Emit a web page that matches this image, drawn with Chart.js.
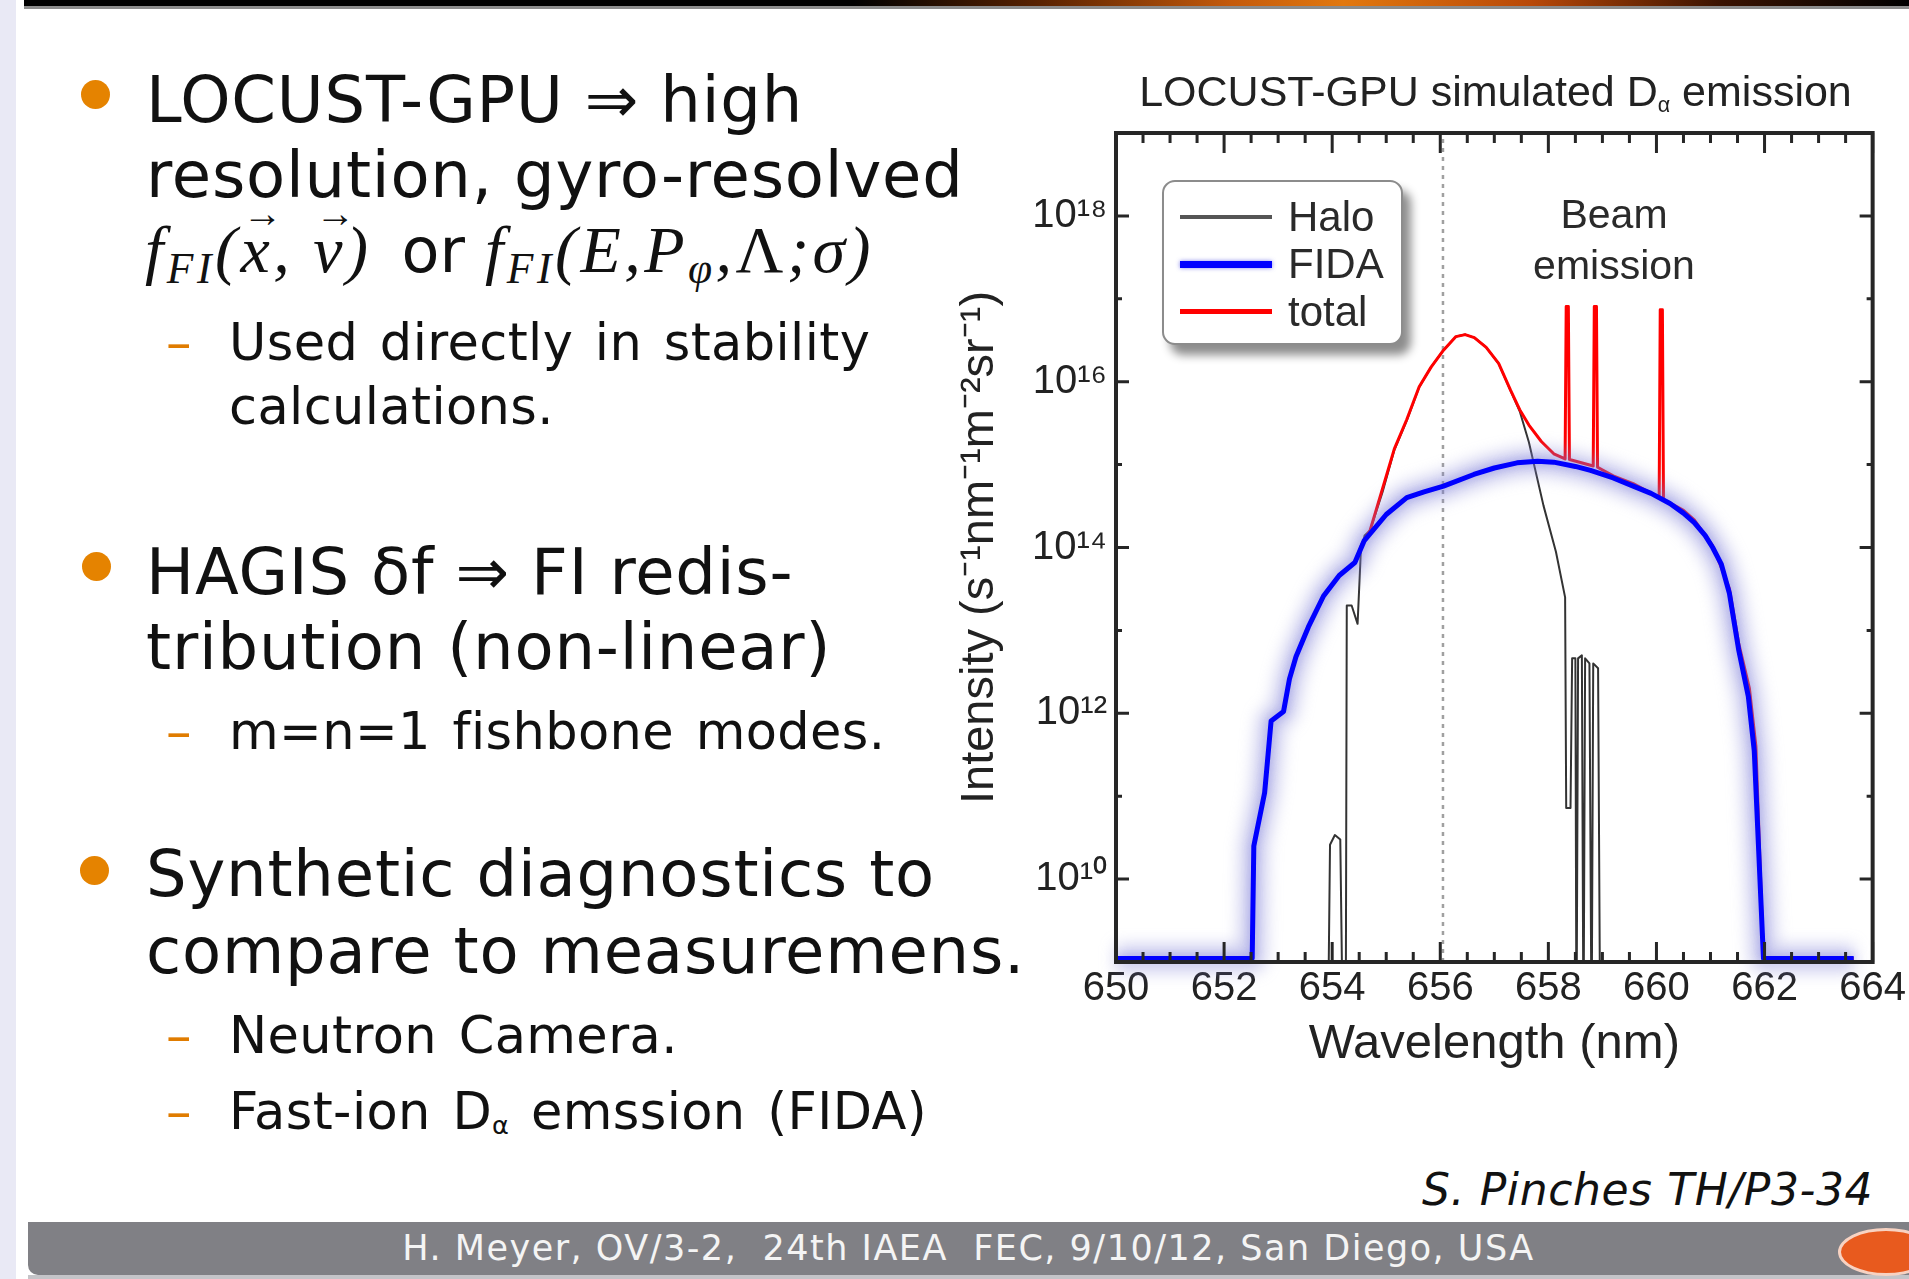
<!DOCTYPE html>
<html>
<head>
<meta charset="utf-8">
<title>LOCUST-GPU simulated D-alpha emission</title>
<script src="https://cdn.jsdelivr.net/npm/chart.js@4.4.1/dist/chart.umd.min.js"></script>
<style>
  html, body { margin: 0; padding: 0; }
  body {
    width: 1909px; height: 1279px; position: relative; overflow: hidden;
    background: #fff; color: #111;
    font-family: 'DejaVu Sans', Verdana, sans-serif;
  }
  .abs { position: absolute; white-space: nowrap; line-height: 1; }
  .main { font-size: 64px; left: 146px; letter-spacing: 0.8px; }
  .sub { font-size: 51px; left: 229px; word-spacing: 5px; letter-spacing: 0.4px; }
  .dash { font-size: 51px; left: 166px; color: #e07c00; }
  .dot { position: absolute; width: 29px; height: 29px; border-radius: 50%; background: #e58300; }
  .formula { font-family: 'Liberation Serif', 'Times New Roman', serif; font-style: italic; font-size: 66px; left: 145px; letter-spacing: 3.5px; }
  .formula .sans { font-family: 'DejaVu Sans', sans-serif; font-style: normal; font-size: 62px; letter-spacing: 0; margin-left: 10px; }
  .formula sub { font-size: 0.66em; vertical-align: -0.25em; line-height: 0; }
  .formula .up { font-style: normal; }
  .vec { position: relative; display: inline-block; }
  .vec::before { content: '\2192'; position: absolute; left: 0.06em; top: -0.55em; font-size: 0.6em; font-style: normal; }
  #chartTitle {
    left: 1116px; top: 70px; width: 759px; text-align: center;
    font-family: 'Liberation Sans', Arial, sans-serif; font-size: 43px; color: #222;
  }
  #chartTitle sub { font-size: 0.5em; vertical-align: -0.3em; line-height: 0; }
  #beam {
    left: 1514px; top: 189px; width: 200px; text-align: center; line-height: 51px;
    font-family: 'Liberation Sans', Arial, sans-serif; font-size: 41px; color: #2a2a2a;
  }
  #legend {
    position: absolute; left: 1162px; top: 180px; width: 237px; height: 161px;
    border: 2px solid #8c8c8c; border-radius: 13px; background: #fff;
    box-shadow: 8px 10px 10px rgba(0, 0, 0, 0.45);
    font-family: 'Liberation Sans', Arial, sans-serif; font-size: 42px; color: #2a2a2a;
  }
  .legRow { position: absolute; left: 0; height: 47px; display: flex; align-items: center; }
  .legLine { position: absolute; left: 16px; width: 92px; }
  .legText { position: absolute; left: 124px; line-height: 1; }
  #chartBox { position: absolute; left: 940px; top: 100px; width: 969px; height: 990px; }
</style>
</head>
<body>
  <!-- slide frame -->
  <div style="position:absolute;left:0;top:0;width:16px;height:1279px;background:#e9e9f5;"></div>
  <div style="position:absolute;left:24px;top:0;width:1885px;height:6px;background:linear-gradient(90deg,#000 0%,#000 44%,#5a2200 54%,#c45a0c 64%,#e2780e 70%,#b84808 80%,#3a1200 90%,#000 100%);"></div>
  <div style="position:absolute;left:24px;top:6px;width:1885px;height:3px;background:#8c8c8c;"></div>

  <!-- bullet text -->
  <div class="dot" style="left:81px;top:80px;"></div>
  <div class="abs main" style="top:68px;">LOCUST-GPU ⇒ high</div>
  <div class="abs main" style="top:143px;">resolution, gyro-resolved</div>
  <div class="abs formula" style="top:217px;"><span>f</span><sub>FI</sub>(<span class="vec">x</span>, <span class="vec">v</span>) <span class="sans">or</span> <span>f</span><sub>FI</sub>(E,P<sub>φ</sub>,<span class="up">Λ</span>;σ)</div>
  <div class="abs dash" style="top:317px;">–</div>
  <div class="abs sub" style="top:317px;">Used directly in stability</div>
  <div class="abs sub" style="top:381px;">calculations.</div>

  <div class="dot" style="left:82px;top:552px;"></div>
  <div class="abs main" style="top:540px;">HAGIS δf ⇒ FI redis-</div>
  <div class="abs main" style="top:615px;">tribution (non-linear)</div>
  <div class="abs dash" style="top:706px;">–</div>
  <div class="abs sub" style="top:706px;">m=n=1 fishbone modes.</div>

  <div class="dot" style="left:80px;top:856px;"></div>
  <div class="abs main" style="top:842px;">Synthetic diagnostics to</div>
  <div class="abs main" style="top:919px;">compare to measuremens.</div>
  <div class="abs dash" style="top:1010px;">–</div>
  <div class="abs sub" style="top:1010px;">Neutron Camera.</div>
  <div class="abs dash" style="top:1086px;">–</div>
  <div class="abs sub" style="top:1086px;">Fast-ion D<sub style="font-size:0.5em;vertical-align:-0.2em;line-height:0;">α</sub> emssion (FIDA)</div>

  <div class="abs" style="left:1422px;top:1168px;font-size:44px;font-style:italic;letter-spacing:0.6px;">S. Pinches TH/P3-34</div>

  <!-- footer -->
  <div style="position:absolute;left:28px;top:1222px;width:1881px;height:53px;background:#808085;border-bottom-left-radius:10px;color:#f4f4f4;text-align:center;font-size:35px;letter-spacing:1.5px;line-height:53px;white-space:nowrap;">H. Meyer, OV/3-2,&nbsp; 24th IAEA&nbsp; FEC, 9/10/12, San Diego, USA</div>
  <div style="position:absolute;left:28px;top:1275px;width:1881px;height:4px;background:#c4c4c8;"></div>
  <div style="position:absolute;left:1838px;top:1228px;width:90px;height:42px;border-radius:50%;background:#e85a1e;border:3px solid #f7d2c2;"></div>

  <!-- chart -->
  <div id="chartBox"><canvas id="spectrum" width="969" height="990"></canvas></div>
  <div id="chartTitle" class="abs">LOCUST-GPU simulated D<sub>α</sub> emission</div>
  <div id="beam" class="abs">Beam<br>emission</div>
  <div id="legend"></div>

<script>
// axis ticks
const wavelengthTicks = [650, 652, 654, 656, 658, 660, 662, 664];
const intensityTicks = [1e10, 1e12, 1e14, 1e16, 1e18];
const intensityTickLabels = ['10¹⁰', '10¹²', '10¹⁴', '10¹⁶', '10¹⁸'];
const intensityMinorTicks = [1e11, 1e13, 1e15, 1e17];
const dAlphaLine = 656.05;

// Halo (values below 1e9 are off the bottom of the plot)
const haloWl = [650, 653.92, 653.96, 654.05, 654.15, 654.2, 654.25, 654.27, 654.36, 654.47, 654.53, 654.6, 654.7,
  654.93, 655.15, 655.38, 655.61, 655.83, 656.06, 656.29, 656.46, 656.63, 656.85, 657.08, 657.3, 657.47, 657.64,
  657.91, 658.14, 658.31, 658.33, 658.41, 658.44, 658.5, 658.52, 658.55, 658.62, 658.65, 658.68, 658.76, 658.8,
  658.83, 658.92, 658.96, 663.7];
const haloInt = [1e8, 1e8, 2.6e10, 3.4e10, 3.0e10, 1e8, 1e8, 2.0e13, 2.0e13, 1.2e13, 9e13, 1.4e14, 1.6e14,
  4.6e14, 1.5e15, 3.4e15, 8.6e15, 1.5e16, 2.4e16, 3.5e16, 3.7e16, 3.4e16, 2.6e16, 1.65e16, 7.8e15, 4.4e15, 1.86e15,
  3.2e14, 8.9e13, 2.5e13, 7.2e10, 7.2e10, 4.6e12, 4.6e12, 1e8, 4.6e12, 5.0e12, 1e8, 4.6e12, 4.0e12, 1e8,
  4.0e12, 3.5e12, 1e8, 1e8];

// FIDA
const fidaWl = [650, 652.52, 652.55, 652.75, 652.87, 653.1, 653.21, 653.33, 653.56, 653.84, 654.13, 654.42, 654.59,
  655.0, 655.38, 655.7, 656.06, 656.62, 657.0, 657.42, 657.8, 658.1, 658.5, 658.78, 659.2, 659.57, 659.9, 660.25,
  660.5, 660.7, 660.9, 661.04, 661.2, 661.35, 661.52, 661.7, 661.81, 661.98, 663.65];
const fidaInt = [1.1e9, 1.1e9, 2.5e10, 1.1e11, 8.1e11, 1.05e12, 2.6e12, 4.8e12, 1.1e13, 2.6e13, 4.6e13, 6.6e13, 1.2e14,
  2.5e14, 4.0e14, 4.7e14, 5.5e14, 7.6e14, 9.1e14, 1.05e15, 1.1e15, 1.07e15, 9.5e14, 8.5e14, 6.9e14, 5.5e14, 4.5e14, 3.4e14,
  2.6e14, 2.0e14, 1.4e14, 1.0e14, 6.3e13, 2.8e13, 5.9e12, 1.6e12, 3.5e11, 1.1e9, 1.1e9];

// total, with the beam emission lines
const totalWl = [650, 652.52, 652.55, 652.75, 652.87, 653.1, 653.21, 653.33, 653.56, 653.84, 654.13, 654.42, 654.55,
  654.7, 654.93, 655.15, 655.38, 655.61, 655.83, 656.06, 656.29, 656.46, 656.63, 656.85, 657.08, 657.3, 657.47,
  657.64, 657.87, 658.1, 658.31, 658.33, 658.37, 658.39, 658.83, 658.85, 658.89, 658.91, 659.2, 659.57, 660.05,
  660.07, 660.11, 660.13, 660.5, 660.7, 661.04, 661.35, 661.52, 661.72, 661.84, 661.98, 663.65];
const totalInt = [1.1e9, 1.1e9, 2.5e10, 1.1e11, 8.1e11, 1.05e12, 2.6e12, 4.8e12, 1.1e13, 2.6e13, 4.6e13, 6.6e13, 1.1e14,
  1.6e14, 5.1e14, 1.55e15, 3.5e15, 8.7e15, 1.5e16, 2.4e16, 3.5e16, 3.7e16, 3.4e16, 2.6e16, 1.66e16, 7.9e15, 4.6e15,
  3.0e15, 1.9e15, 1.35e15, 1.17e15, 8.1e16, 8.1e16, 1.15e15, 9.6e14, 8.1e16, 8.1e16, 9.3e14, 7.3e14, 5.9e14, 4.0e14,
  7.4e16, 7.4e16, 3.8e14, 2.8e14, 2.15e14, 1.05e14, 3.2e13, 7.1e12, 2.0e12, 4.0e11, 1.1e9, 1.1e9];

const chartFont = "'Liberation Sans', Arial, sans-serif";

function toPoints(xs, ys) {
    return xs.map((x, i) => ({ x: x, y: ys[i] }));
}

// frame, inward ticks, dotted D-alpha line and the glow under the FIDA curve
const axisFrame = {
    id: 'axisFrame',
    beforeDatasetsDraw(chart) {
        const { ctx, chartArea: a, scales: { x } } = chart;
        const px = x.getPixelForValue(dAlphaLine);
        ctx.save();
        ctx.strokeStyle = '#a0a0a0';
        ctx.lineWidth = 2.5;
        ctx.setLineDash([4, 5]);
        ctx.beginPath();
        ctx.moveTo(px, a.bottom);
        ctx.lineTo(px, a.top);
        ctx.stroke();
        ctx.restore();
    },
    beforeDatasetDraw(chart, args) {
        if (args.index !== 1) return;
        const ctx = chart.ctx;
        // soft lavender halo following the FIDA points
        const pts = args.meta.data;
        ctx.save();
        ctx.filter = 'blur(8px)';
        ctx.strokeStyle = 'rgba(130, 130, 215, 0.42)';
        ctx.lineWidth = 26;
        ctx.lineJoin = 'round';
        ctx.beginPath();
        pts.forEach((p, i) => (i ? ctx.lineTo(p.x, p.y) : ctx.moveTo(p.x, p.y)));
        ctx.stroke();
        ctx.restore();
        ctx.save();
        ctx.shadowColor = 'rgba(90, 90, 215, 0.45)';
        ctx.shadowBlur = 10;
    },
    afterDatasetDraw(chart, args) {
        if (args.index === 1) chart.ctx.restore();
    },
    afterDraw(chart) {
        const { ctx, chartArea: a, scales: { x, y } } = chart;
        ctx.save();
        ctx.strokeStyle = '#262626';
        ctx.lineWidth = 3;
        ctx.beginPath();
        for (let v = 650; v <= 664; v += 0.5) {
            const px = x.getPixelForValue(v);
            const len = wavelengthTicks.includes(v) ? 20 : 10;
            ctx.moveTo(px, a.bottom);
            ctx.lineTo(px, a.bottom - len);
            ctx.moveTo(px, a.top);
            ctx.lineTo(px, a.top + len);
        }
        intensityTicks.concat(intensityMinorTicks).forEach(v => {
            const py = y.getPixelForValue(v);
            const len = intensityTicks.includes(v) ? 13 : 6;
            ctx.moveTo(a.left, py);
            ctx.lineTo(a.left + len, py);
            ctx.moveTo(a.right, py);
            ctx.lineTo(a.right - len, py);
        });
        ctx.stroke();
        ctx.lineWidth = 4;
        ctx.strokeRect(a.left, a.top, a.width, a.height);
        ctx.restore();
    }
};

// drawing order: FIDA on top, total below it, Halo at the bottom
const chart = new Chart(document.getElementById('spectrum'), {
    type: 'line',
    data: {
        datasets: [
            { label: 'Halo', data: toPoints(haloWl, haloInt), borderColor: '#333333', borderWidth: 2, order: 3 },
            { label: 'FIDA', data: toPoints(fidaWl, fidaInt), borderColor: '#0000ff', borderWidth: 5, order: 1 },
            { label: 'total', data: toPoints(totalWl, totalInt), borderColor: '#ff0000', borderWidth: 3, order: 2 }
        ]
    },
    options: {
        responsive: false,
        animation: false,
        devicePixelRatio: 1,
        elements: {
            point: { radius: 0 },
            line: { tension: 0, borderJoinStyle: 'round' }
        },
        layout: {
            autoPadding: false,
            padding: { left: 0, right: 34, top: 22, bottom: 0 }
        },
        plugins: {
            legend: { display: false },
            tooltip: { enabled: false }
        },
        scales: {
            x: {
                type: 'linear',
                min: 650,
                max: 664,
                afterBuildTicks: scale => {
                    scale.ticks = wavelengthTicks.map(v => ({ value: v }));
                },
                afterFit: scale => { scale.height = 128; },
                ticks: {
                    padding: 3,
                    color: '#222',
                    font: { family: chartFont, size: 40 },
                    maxRotation: 0
                },
                grid: { display: false, drawTicks: false },
                border: { display: false },
                title: {
                    display: true,
                    text: 'Wavelength (nm)',
                    color: '#222',
                    font: { family: chartFont, size: 49 },
                    padding: { top: 0, bottom: 16 }
                }
            },
            y: {
                type: 'logarithmic',
                min: 1e9,
                max: 1e19,
                afterBuildTicks: scale => {
                    scale.ticks = intensityTicks.map(v => ({ value: v }));
                },
                afterFit: scale => { scale.width = 176; },
                ticks: {
                    padding: 9,
                    color: '#222',
                    font: { family: chartFont, size: 40 },
                    callback: (value, index) => intensityTickLabels[index]
                },
                grid: { display: false, drawTicks: false },
                border: { display: false },
                title: {
                    display: true,
                    text: 'Intensity (s⁻¹nm⁻¹m⁻²sr⁻¹)',
                    color: '#222',
                    font: { family: chartFont, size: 47 },
                    padding: { top: 12, bottom: 0 }
                }
            }
        }
    },
    plugins: [axisFrame]
});

// legend box inside the plot, built from the datasets
const legendBox = document.getElementById('legend');
chart.data.datasets.forEach((ds, i) => {
    const row = document.createElement('div');
    row.className = 'legRow';
    row.style.top = (11 + i * 47.5) + 'px';
    const line = document.createElement('div');
    line.className = 'legLine';
    const w = ds.borderWidth + 2;
    line.style.height = w + 'px';
    line.style.top = (23.5 - w / 2) + 'px';
    line.style.background = ds.label === 'Halo' ? '#555' : ds.borderColor;
    if (ds.label === 'FIDA') line.style.boxShadow = '0 0 4px rgba(80, 80, 230, 0.7)';
    const text = document.createElement('div');
    text.className = 'legText';
    text.textContent = ds.label;
    row.appendChild(line);
    row.appendChild(text);
    legendBox.appendChild(row);
});
</script>
</body>
</html>
